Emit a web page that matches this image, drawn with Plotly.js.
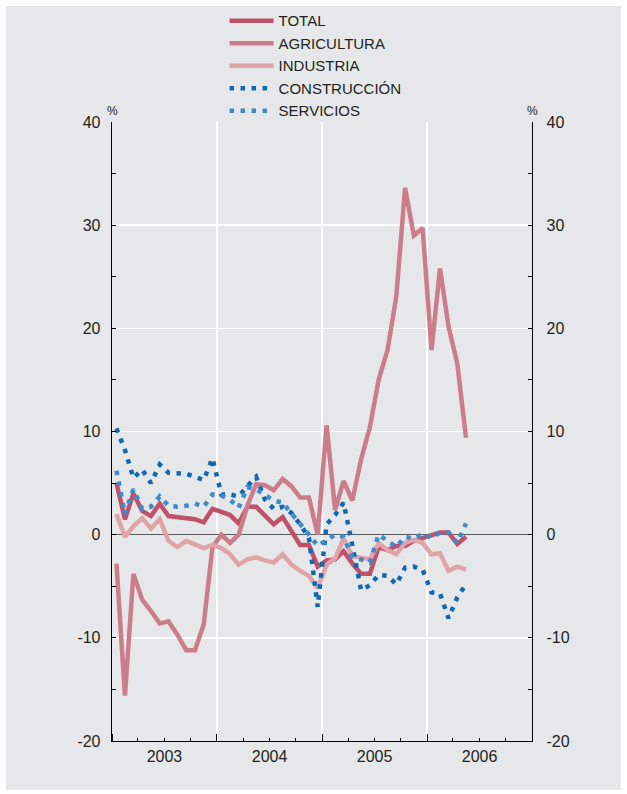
<!DOCTYPE html>
<html>
<head>
<meta charset="utf-8">
<script src="https://cdn.plot.ly/plotly-3.0.1.min.js"></script>
<style>html,body{margin:0;padding:0;background:#fff;}#chart{width:627px;height:794px;}</style>
</head>
<body>
<div id="chart"></div>
<script>
const months = ['2003-01','2003-02','2003-03','2003-04','2003-05','2003-06','2003-07','2003-08','2003-09','2003-10','2003-11','2003-12',
'2004-01','2004-02','2004-03','2004-04','2004-05','2004-06','2004-07','2004-08','2004-09','2004-10','2004-11','2004-12',
'2005-01','2005-02','2005-03','2005-04','2005-05','2005-06','2005-07','2005-08','2005-09','2005-10','2005-11','2005-12',
'2006-01','2006-02','2006-03','2006-04','2006-05'];

const total = [5.0, 1.5, 4.0, 2.3, 1.8, 3.0, 1.8, 1.7, 1.7, 1.5, 1.2, 2.5, 2.2, 1.9, 1.1, 2.7, 2.7, 1.8, 1.0, 1.7, 0.4, -1.0, -1.0, -3.1, -2.5, -2.4, -1.6, -2.8, -3.8, -3.8, -1.2, -1.5, -1.1, -1.1, -0.6, -0.3, -0.1, 0.2, 0.2, -0.9, -0.2];
const agricultura = [-2.8, -15.6, -3.8, -6.3, -7.4, -8.6, -8.4, -9.7, -11.2, -11.2, -8.7, -1.2, 0.0, -0.8, 0.0, 2.8, 4.9, 4.8, 4.3, 5.4, 4.7, 3.6, 3.6, 0.0, 10.6, 2.4, 5.2, 3.3, 7.3, 10.4, 15.0, 17.9, 23.1, 33.6, 29.0, 29.7, 17.9, 25.8, 20.2, 16.6, 9.4];
const industria = [2.0, -0.2, 0.8, 1.6, 0.6, 1.5, -0.6, -1.2, -0.6, -1.0, -1.3, -1.0, -1.3, -1.9, -2.9, -2.4, -2.2, -2.5, -2.7, -1.9, -2.9, -3.5, -4.0, -5.2, -2.9, -2.3, -0.4, -2.1, -2.3, -2.4, -0.8, -1.5, -1.9, -0.8, -0.5, -0.8, -1.9, -1.8, -3.5, -3.1, -3.4];
const construccion = [10.3, 8.2, 5.5, 6.3, 5.0, 6.8, 6.0, 6.0, 5.9, 5.6, 5.3, 7.4, 3.9, 3.9, 3.7, 4.7, 5.6, 3.4, 2.5, 2.7, 2.1, 1.0, -0.3, -7.0, 1.0, 1.9, 3.1, -1.0, -5.4, -4.9, -3.9, -4.0, -4.8, -3.2, -3.1, -3.4, -5.6, -5.7, -8.1, -6.1, -4.8];
const servicios = [6.2, 2.0, 4.4, 2.5, 2.7, 3.7, 2.8, 2.7, 2.8, 3.0, 2.7, 3.9, 3.8, 3.4, 2.6, 4.6, 4.4, 3.8, 3.3, 3.1, 2.1, 1.0, 0.0, -1.1, -0.5, 0.0, -0.2, -2.2, -2.4, -2.7, 0.0, -0.6, -1.2, -0.2, -0.4, 0.1, -0.3, 0.2, 0.2, -0.8, 1.1];

const seriesNames = ['TOTAL', 'AGRICULTURA', 'INDUSTRIA', 'CONSTRUCCIÓN', 'SERVICIOS'];
const yTicks = [-20, -10, 0, 10, 20, 30, 40];

const FONT = 'Liberation Sans, Arial, Helvetica, sans-serif';
const TXT = '#231f20';
const BG = '#e6e7e8';

function tr(name, y, color, dash) {
  return {
    type: 'scatter', mode: 'lines', name: name, x: months, y: y,
    xperiod: 'M1', xperiodalignment: 'middle',
    line: {color: color, width: 4.5, dash: dash || 'solid'},
    hoverinfo: 'skip'
  };
}

const data = [
  tr(seriesNames[0], total, '#c0516b'),
  tr(seriesNames[1], agricultura, '#cc7d8b'),
  tr(seriesNames[2], industria, '#dfa3aa'),
  tr(seriesNames[3], construccion, '#0f68b1', '4.5px,6.5px'),
  tr(seriesNames[4], servicios, '#3f8acb', '4.5px,6.5px')
];
// invisible companion so the right-hand axis is drawn
data.push({type:'scatter', mode:'lines', x: months, y: total, yaxis:'y2', xperiod:'M1', xperiodalignment:'middle', opacity:0, showlegend:false, hoverinfo:'skip', line:{width:0}});

const yax = {
  range: [-20, 40], tickvals: yTicks, ticktext: yTicks.map(String),
  ticks: 'inside', ticklen: 4, tickwidth: 1, tickcolor: '#000',
  minor: {dtick: 5, tick0: 0, ticks: 'inside', ticklen: 4, tickwidth: 1, tickcolor: '#000', showgrid: false},
  showline: true, linecolor: '#000', linewidth: 1.3,
  showgrid: true, gridcolor: '#ffffff', gridwidth: 1.5,
  zeroline: true, zerolinecolor: '#58595b', zerolinewidth: 1.5,
  tickfont: {family: FONT, size: 16, color: TXT},
  ticklabelstandoff: 7, fixedrange: true
};

const layout = {
  width: 627, height: 794,
  margin: {l: 112, r: 95, t: 122, b: 53, autoexpand: false},
  paper_bgcolor: '#ffffff', plot_bgcolor: BG,
  font: {family: FONT, color: TXT},
  showlegend: true,
  legend: {
    x: 0.268, y: 1.19, xanchor: 'left', yanchor: 'top',
    bgcolor: 'rgba(0,0,0,0)', font: {family: FONT, size: 15, color: TXT},
    traceorder: 'normal', itemwidth: 44
  },
  xaxis: {
    type: 'date', range: ['2003-01-01', '2007-01-01'],
    tick0: '2003-01-01', dtick: 'M12', ticklabelmode: 'period', tickformat: '%Y',
    ticks: 'inside', ticklen: 7, tickwidth: 1, tickcolor: '#000',
    minor: {dtick: 'M3', tick0: '2003-01-01', ticks: 'inside', ticklen: 3.5, tickwidth: 1, tickcolor: '#000', showgrid: false},
    showline: true, linecolor: '#000', linewidth: 1.3,
    showgrid: true, gridcolor: '#ffffff', gridwidth: 1.5,
    tickfont: {family: FONT, size: 16, color: TXT}, fixedrange: true
  },
  yaxis: Object.assign({}, yax, {side: 'left'}),
  yaxis2: Object.assign({}, yax, {side: 'right', overlaying: 'y', showgrid: false, zeroline: false, ticklabelstandoff: 10}),
  shapes: [{
    type: 'rect', xref: 'paper', yref: 'paper', layer: 'below',
    x0: -0.2524, x1: 1.2119, y0: -0.0792, y1: 1.1874,
    fillcolor: BG, line: {width: 0}
  }],
  annotations: [
    {text: '%', xref: 'paper', yref: 'paper', x: 0, y: 1, xanchor: 'center', yanchor: 'bottom', yshift: 2, showarrow: false, font: {family: FONT, size: 12, color: TXT}},
    {text: '%', xref: 'paper', yref: 'paper', x: 1, y: 1, xanchor: 'center', yanchor: 'bottom', yshift: 2, showarrow: false, font: {family: FONT, size: 12, color: TXT}}
  ]
};

Plotly.newPlot('chart', data, layout, {displayModeBar: false, staticPlot: true});
</script>
</body>
</html>
